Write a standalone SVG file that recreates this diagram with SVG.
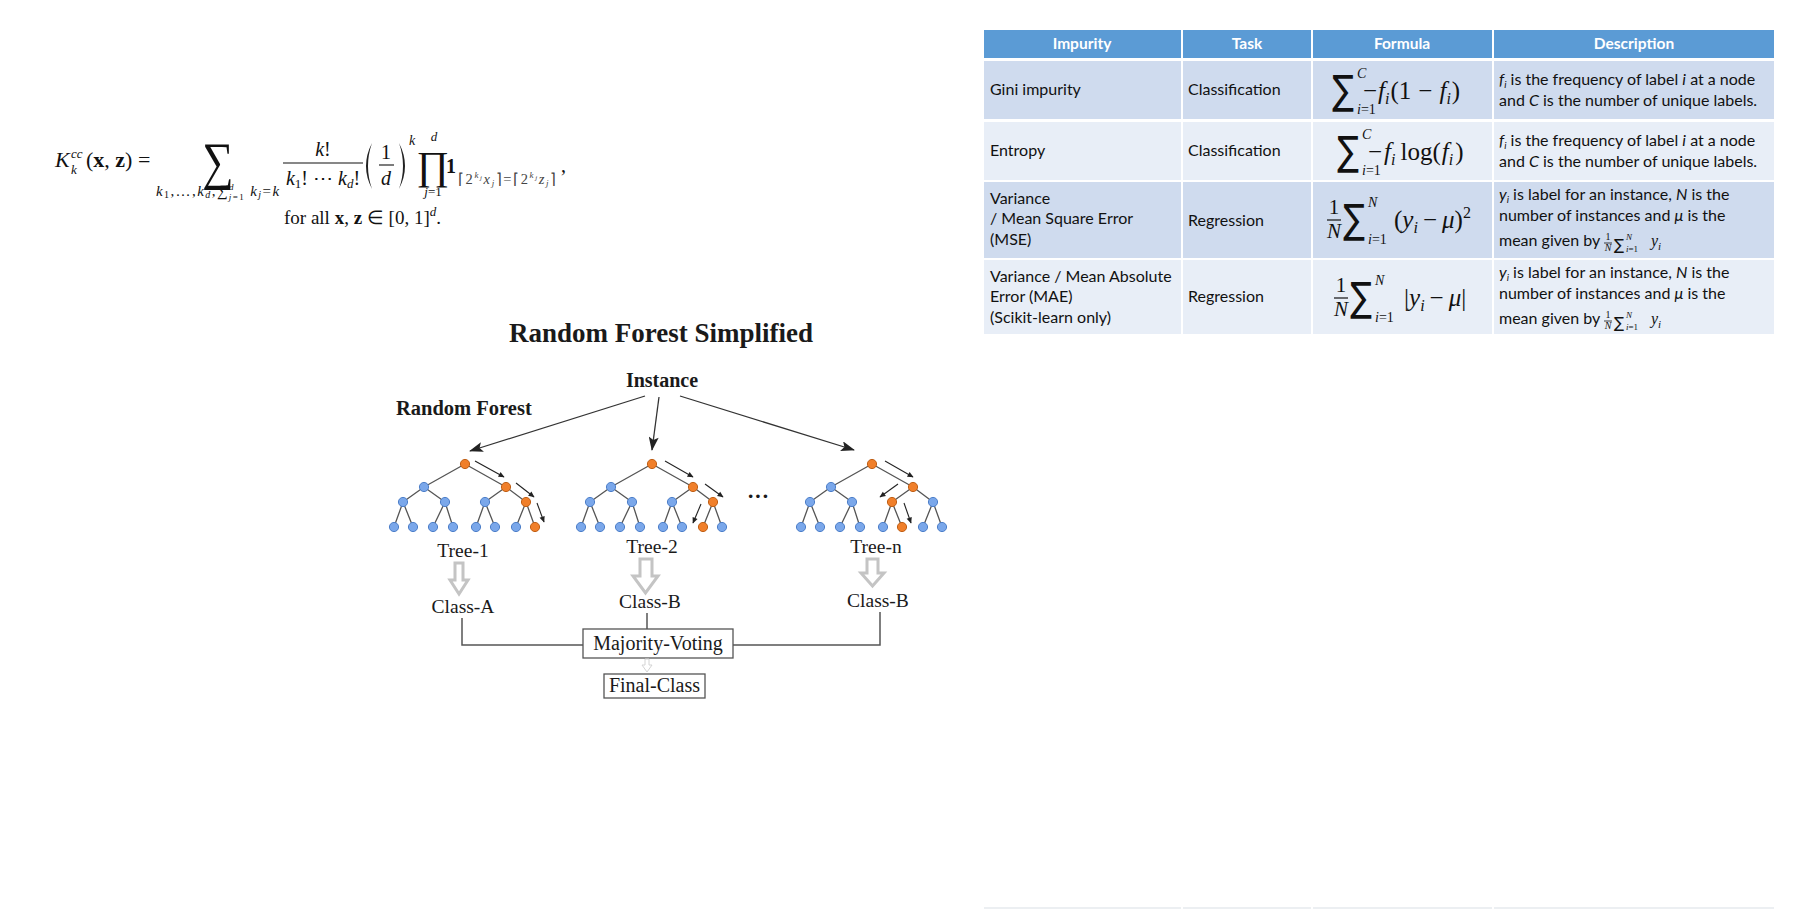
<svg xmlns="http://www.w3.org/2000/svg" width="1801" height="919" viewBox="0 0 1801 919">
<defs>
<style>
.t{font-family:Lato,"Liberation Sans",sans-serif;font-size:16px;fill:#111}
.th{font-family:Lato,"Liberation Sans",sans-serif;font-size:15.5px;font-weight:bold;fill:#fff;text-anchor:middle}
.m{font-family:"Liberation Serif",serif;fill:#111}
.sg{font-family:"DejaVu Sans",sans-serif;fill:#111}
.i{font-style:italic}
.n{font-style:normal}
.hd{fill:#5b9bd5}
.r1{fill:#cfdbee}
.r2{fill:#e8eef7}
.s{font-family:"Liberation Serif",serif;fill:#1a1a1a}
.edge{stroke:#555;stroke-width:1.3;fill:none}
.nb{fill:#7aa7ea;stroke:#4d7fc9;stroke-width:1}
.no{fill:#f07f2a;stroke:#c05f15;stroke-width:1}
.pa{stroke:#222;stroke-width:1.1;fill:none;marker-end:url(#sa)}
.ia{stroke:#333;stroke-width:1.3;fill:none;marker-end:url(#la)}
.ga{fill:#fff;stroke:#c4c4c4;stroke-width:3;stroke-linejoin:miter}
.cl{stroke:#555;stroke-width:1.5;fill:none}
.bx{fill:#fff;stroke:#555;stroke-width:1.3}
</style>
<marker id="sa" viewBox="0 0 10 10" refX="9" refY="5" markerWidth="7" markerHeight="6" orient="auto" markerUnits="userSpaceOnUse"><path d="M0,0.5 L10,5 L0,9.5 z" fill="#222"/></marker>
<marker id="la" viewBox="0 0 14 10" refX="13" refY="5" markerWidth="15" markerHeight="10" orient="auto" markerUnits="userSpaceOnUse"><path d="M0,0 L14,5 L0,10 L3,5 z" fill="#222"/></marker>
<path id="edges" class="edge" d="M0,0 L-41,23 M0,0 L41,23 M-41,23 L-62,38 M-41,23 L-20,38 M41,23 L20,38 M41,23 L61,38 M-62,38 L-71,63 M-62,38 L-52,63 M-20,38 L-32,63 M-20,38 L-12,63 M20,38 L11,63 M20,38 L30,63 M61,38 L51,63 M61,38 L70,63"/>
</defs>
<rect width="1801" height="919" fill="#fff"/>

<!-- top-left formula -->
<g id="formula-kernel" class="m">
<text x="55" y="167" font-size="22" class="i">K</text>
<text x="71" y="158" font-size="13" class="i">cc</text>
<text x="71" y="174" font-size="13" class="i">k</text>
<text x="86" y="167" font-size="22">(<tspan font-weight="bold">x</tspan>, <tspan font-weight="bold">z</tspan>) =</text>
<text font-size="44" transform="translate(202,179) scale(1,1.2)">∑</text>
<text x="156" y="196" font-size="15" letter-spacing="1.4" class="i">k<tspan font-size="10" dy="2" class="n">1</tspan><tspan dy="-2" class="n">,…,</tspan>k<tspan font-size="10" dy="2">d</tspan><tspan dy="-2" class="n">,∑</tspan><tspan font-size="9" dy="-6">d</tspan><tspan font-size="9" dx="-6" dy="10">j</tspan><tspan font-size="9" class="n">=1</tspan><tspan dy="-4"> k</tspan><tspan font-size="10" dy="2">j</tspan><tspan dy="-2" class="n">=</tspan>k</text>
<text x="323" y="156" font-size="20" text-anchor="middle"><tspan class="i">k</tspan>!</text>
<line x1="283" y1="163" x2="363" y2="163" stroke="#111" stroke-width="1.1"/>
<text x="323" y="185" font-size="20" text-anchor="middle"><tspan class="i">k</tspan><tspan font-size="13" dy="3">1</tspan><tspan dy="-3">! ⋯ </tspan><tspan class="i">k</tspan><tspan font-size="13" dy="3" class="i">d</tspan><tspan dy="-3">!</tspan></text>
<path d="M372,143 Q360,166 372,189 Q364,166 372,143 z" fill="#222"/>
<path d="M399,143 Q411,166 399,189 Q407,166 399,143 z" fill="#222"/>
<text x="386" y="159" font-size="20" text-anchor="middle">1</text>
<line x1="379" y1="165" x2="394" y2="165" stroke="#111" stroke-width="1.1"/>
<text x="386" y="185" font-size="20" text-anchor="middle" class="i">d</text>
<text x="409" y="145" font-size="14" class="i">k</text>
<text x="434" y="141" font-size="13" text-anchor="middle" class="i">d</text>
<text font-size="38" text-anchor="middle" transform="translate(433,179) scale(1.05,1.05)">∏</text>
<text x="433" y="196" font-size="13" text-anchor="middle"><tspan class="i">j</tspan>=1</text>
<text x="446" y="173" font-size="20" font-weight="bold">1</text>
<text x="458" y="184" font-size="14.5" letter-spacing="1.6" fill="#444">⌈2<tspan font-size="9" dy="-6" class="i">k</tspan><tspan font-size="7" dy="2" class="i">j</tspan><tspan dy="4" class="i">x</tspan><tspan font-size="9" dy="2" class="i">j</tspan><tspan dy="-2">⌉=⌈2</tspan><tspan font-size="9" dy="-6" class="i">k</tspan><tspan font-size="7" dy="2" class="i">j</tspan><tspan dy="4" class="i">z</tspan><tspan font-size="9" dy="2" class="i">j</tspan><tspan dy="-2">⌉</tspan></text>
<text x="561" y="172" font-size="20">,</text>
<text x="284" y="224" font-size="19">for all <tspan font-weight="bold">x</tspan>, <tspan font-weight="bold">z</tspan> ∈ [0, 1]<tspan font-size="13" dy="-8" class="i">d</tspan><tspan dy="8">.</tspan></text>
</g>

<!-- table -->
<g id="table">
<g id="header">
<rect class="hd" x="984" y="30" width="197" height="28"/>
<rect class="hd" x="1183" y="30" width="128" height="28"/>
<rect class="hd" x="1313" y="30" width="179" height="28"/>
<rect class="hd" x="1494" y="30" width="280" height="28"/>
<text class="th" x="1082" y="49">Impurity</text>
<text class="th" x="1247" y="49">Task</text>
<text class="th" x="1402" y="49">Formula</text>
<text class="th" x="1634" y="49">Description</text>
</g>
<g id="row-gini">
<rect class="r1" x="984" y="61" width="197" height="58"/>
<rect class="r1" x="1183" y="61" width="128" height="58"/>
<rect class="r1" x="1313" y="61" width="179" height="58"/>
<rect class="r1" x="1494" y="61" width="280" height="58"/>
<text class="t" x="990" y="95">Gini impurity</text>
<text class="t" x="1188" y="95">Classification</text>
<text class="sg" font-size="34" transform="translate(1332,104) scale(0.95,1.2)">∑</text>
<text class="m i" x="1357" y="78" font-size="14">C</text>
<text class="m" x="1357" y="114" font-size="14"><tspan class="i">i</tspan>=1</text>
<text class="m" x="1363" y="99" font-size="25">−<tspan class="i" dx="1">f</tspan><tspan class="i" font-size="16" dy="5">i</tspan><tspan dy="-5" dx="1">(1</tspan><tspan dx="7">−</tspan><tspan class="i" dx="7">f</tspan><tspan class="i" font-size="16" dy="5">i</tspan><tspan dy="-5" dx="1">)</tspan></text>
<text class="t" x="1499" y="85"><tspan class="i">f</tspan><tspan class="i" font-size="10" dy="3">i</tspan><tspan dy="-3"> is the frequency of label </tspan><tspan class="i">i</tspan> at a node</text>
<text class="t" x="1499" y="106">and <tspan class="i">C</tspan> is the number of unique labels.</text>
</g>
<g id="row-entropy">
<rect class="r2" x="984" y="122" width="197" height="58"/>
<rect class="r2" x="1183" y="122" width="128" height="58"/>
<rect class="r2" x="1313" y="122" width="179" height="58"/>
<rect class="r2" x="1494" y="122" width="280" height="58"/>
<text class="t" x="990" y="156">Entropy</text>
<text class="t" x="1188" y="156">Classification</text>
<text class="sg" font-size="34" transform="translate(1337,165) scale(0.95,1.2)">∑</text>
<text class="m i" x="1362" y="139" font-size="14">C</text>
<text class="m" x="1362" y="175" font-size="14"><tspan class="i">i</tspan>=1</text>
<text class="m" x="1368" y="160" font-size="25">−<tspan class="i" dx="2">f</tspan><tspan class="i" font-size="16" dy="5">i</tspan><tspan dy="-5" dx="5">log(</tspan><tspan class="i" dx="1">f</tspan><tspan class="i" font-size="16" dy="5">i</tspan><tspan dy="-5" dx="2">)</tspan></text>
<text class="t" x="1499" y="146"><tspan class="i">f</tspan><tspan class="i" font-size="10" dy="3">i</tspan><tspan dy="-3"> is the frequency of label </tspan><tspan class="i">i</tspan> at a node</text>
<text class="t" x="1499" y="167">and <tspan class="i">C</tspan> is the number of unique labels.</text>
</g>
<g id="row-mse">
<rect class="r1" x="984" y="182" width="197" height="76"/>
<rect class="r1" x="1183" y="182" width="128" height="76"/>
<rect class="r1" x="1313" y="182" width="179" height="76"/>
<rect class="r1" x="1494" y="182" width="280" height="76"/>
<text class="t" x="990" y="204">Variance</text>
<text class="t" x="990" y="224">/ Mean Square Error</text>
<text class="t" x="990" y="245">(MSE)</text>
<text class="t" x="1188" y="226">Regression</text>
<text class="m" x="1334" y="214" font-size="21" text-anchor="middle">1</text>
<line x1="1327" y1="220" x2="1341" y2="220" stroke="#111" stroke-width="1.2"/>
<text class="m i" x="1334" y="238" font-size="21" text-anchor="middle">N</text>
<text class="sg" font-size="34" transform="translate(1343,233) scale(0.95,1.2)">∑</text>
<text class="m i" x="1368" y="207" font-size="14">N</text>
<text class="m" x="1368" y="244" font-size="14"><tspan class="i">i</tspan>=1</text>
<text class="m" x="1394" y="228" font-size="25">(<tspan class="i">y</tspan><tspan class="i" font-size="16" dy="5">i</tspan><tspan dy="-5" dx="5">−</tspan><tspan class="i" dx="5">μ</tspan>)<tspan font-size="16" dy="-10">2</tspan></text>
<text class="t" x="1499" y="200"><tspan class="i">y</tspan><tspan class="i" font-size="10" dy="3">i</tspan><tspan dy="-3"> is label for an instance, </tspan><tspan class="i">N</tspan> is the</text>
<text class="t" x="1499" y="221">number of instances and <tspan class="i">μ</tspan> is the</text>
<text class="t" x="1499" y="246">mean given by</text>
<text class="m" x="1608" y="240" font-size="10" text-anchor="middle">1</text>
<line x1="1604" y1="243" x2="1612" y2="243" stroke="#111" stroke-width="0.8"/>
<text class="m i" x="1608" y="251" font-size="10" text-anchor="middle">N</text>
<text class="sg" x="1614" y="250" font-size="15">∑</text>
<text class="m i" x="1626" y="240" font-size="9">N</text>
<text class="m" x="1626" y="252" font-size="9"><tspan class="i">i</tspan>=1</text>
<text class="m i" x="1651" y="246" font-size="16">y<tspan font-size="11" dy="4">i</tspan></text>
</g>
<g id="row-mae">
<rect class="r2" x="984" y="260" width="197" height="74"/>
<rect class="r2" x="1183" y="260" width="128" height="74"/>
<rect class="r2" x="1313" y="260" width="179" height="74"/>
<rect class="r2" x="1494" y="260" width="280" height="74"/>
<text class="t" x="990" y="282">Variance / Mean Absolute</text>
<text class="t" x="990" y="302">Error (MAE)</text>
<text class="t" x="990" y="323">(Scikit-learn only)</text>
<text class="t" x="1188" y="302">Regression</text>
<text class="m" x="1341" y="292" font-size="21" text-anchor="middle">1</text>
<line x1="1334" y1="298" x2="1348" y2="298" stroke="#111" stroke-width="1.2"/>
<text class="m i" x="1341" y="316" font-size="21" text-anchor="middle">N</text>
<text class="sg" font-size="34" transform="translate(1350,311) scale(0.95,1.2)">∑</text>
<text class="m i" x="1375" y="285" font-size="14">N</text>
<text class="m" x="1375" y="322" font-size="14"><tspan class="i">i</tspan>=1</text>
<text class="m" x="1404" y="306" font-size="25">|<tspan class="i">y</tspan><tspan class="i" font-size="16" dy="5">i</tspan><tspan dy="-5" dx="5">−</tspan><tspan class="i" dx="5">μ</tspan>|</text>
<text class="t" x="1499" y="278"><tspan class="i">y</tspan><tspan class="i" font-size="10" dy="3">i</tspan><tspan dy="-3"> is label for an instance, </tspan><tspan class="i">N</tspan> is the</text>
<text class="t" x="1499" y="299">number of instances and <tspan class="i">μ</tspan> is the</text>
<text class="t" x="1499" y="324">mean given by</text>
<text class="m" x="1608" y="318" font-size="10" text-anchor="middle">1</text>
<line x1="1604" y1="321" x2="1612" y2="321" stroke="#111" stroke-width="0.8"/>
<text class="m i" x="1608" y="329" font-size="10" text-anchor="middle">N</text>
<text class="sg" x="1614" y="328" font-size="15">∑</text>
<text class="m i" x="1626" y="318" font-size="9">N</text>
<text class="m" x="1626" y="330" font-size="9"><tspan class="i">i</tspan>=1</text>
<text class="m i" x="1651" y="324" font-size="16">y<tspan font-size="11" dy="4">i</tspan></text>
</g>
<g id="table-bottom" stroke="#eceff2" stroke-width="2">
<line x1="984" y1="908" x2="1181" y2="908"/>
<line x1="1183" y1="908" x2="1311" y2="908"/>
<line x1="1313" y1="908" x2="1492" y2="908"/>
<line x1="1494" y1="908" x2="1774" y2="908"/>
</g>
</g>

<!-- random forest diagram -->
<g id="rf-title"><text class="s" x="661" y="342" font-size="27" font-weight="bold" text-anchor="middle">Random Forest Simplified</text></g>
<g id="instance"><text class="s" x="662" y="387" font-size="20" font-weight="bold" text-anchor="middle">Instance</text></g>
<g id="rf-label"><text class="s" x="396" y="415" font-size="20.5" font-weight="bold">Random Forest</text></g>

<g id="tree-1" transform="translate(465,464)">
<use href="#edges"/>
<circle class="no" cx="0" cy="0" r="4.6"/>
<circle class="nb" cx="-41" cy="23" r="4.6"/><circle class="no" cx="41" cy="23" r="4.6"/>
<circle class="nb" cx="-62" cy="38" r="4.6"/><circle class="nb" cx="-20" cy="38" r="4.6"/><circle class="nb" cx="20" cy="38" r="4.6"/><circle class="no" cx="61" cy="38" r="4.6"/>
<circle class="nb" cx="-71" cy="63" r="4.6"/><circle class="nb" cx="-52" cy="63" r="4.6"/><circle class="nb" cx="-32" cy="63" r="4.6"/><circle class="nb" cx="-12" cy="63" r="4.6"/><circle class="nb" cx="11" cy="63" r="4.6"/><circle class="nb" cx="30" cy="63" r="4.6"/><circle class="nb" cx="51" cy="63" r="4.6"/><circle class="no" cx="70" cy="63" r="4.6"/>
<text class="s" x="-2" y="93" font-size="19.5" text-anchor="middle">Tree-1</text>
</g>
<g id="tree-2" transform="translate(652,464)">
<use href="#edges"/>
<circle class="no" cx="0" cy="0" r="4.6"/>
<circle class="nb" cx="-41" cy="23" r="4.6"/><circle class="no" cx="41" cy="23" r="4.6"/>
<circle class="nb" cx="-62" cy="38" r="4.6"/><circle class="nb" cx="-20" cy="38" r="4.6"/><circle class="nb" cx="20" cy="38" r="4.6"/><circle class="no" cx="61" cy="38" r="4.6"/>
<circle class="nb" cx="-71" cy="63" r="4.6"/><circle class="nb" cx="-52" cy="63" r="4.6"/><circle class="nb" cx="-32" cy="63" r="4.6"/><circle class="nb" cx="-12" cy="63" r="4.6"/><circle class="nb" cx="11" cy="63" r="4.6"/><circle class="nb" cx="30" cy="63" r="4.6"/><circle class="no" cx="51" cy="63" r="4.6"/><circle class="nb" cx="70" cy="63" r="4.6"/>
<text class="s" x="0" y="89" font-size="19.5" text-anchor="middle">Tree-2</text>
</g>
<g id="ellipsis"><text class="s" x="758" y="503" font-size="22" font-weight="bold" text-anchor="middle">···</text></g>
<g id="tree-n" transform="translate(872,464)">
<use href="#edges"/>
<circle class="no" cx="0" cy="0" r="4.6"/>
<circle class="nb" cx="-41" cy="23" r="4.6"/><circle class="no" cx="41" cy="23" r="4.6"/>
<circle class="nb" cx="-62" cy="38" r="4.6"/><circle class="nb" cx="-20" cy="38" r="4.6"/><circle class="no" cx="20" cy="38" r="4.6"/><circle class="nb" cx="61" cy="38" r="4.6"/>
<circle class="nb" cx="-71" cy="63" r="4.6"/><circle class="nb" cx="-52" cy="63" r="4.6"/><circle class="nb" cx="-32" cy="63" r="4.6"/><circle class="nb" cx="-12" cy="63" r="4.6"/><circle class="nb" cx="11" cy="63" r="4.6"/><circle class="no" cx="30" cy="63" r="4.6"/><circle class="nb" cx="51" cy="63" r="4.6"/><circle class="nb" cx="70" cy="63" r="4.6"/>
<text class="s" x="4" y="89" font-size="19.5" text-anchor="middle">Tree-n</text>
</g>

<g id="class-a"><text class="s" x="463" y="613" font-size="19.5" text-anchor="middle">Class-A</text></g>
<g id="class-b-2"><text class="s" x="650" y="608" font-size="19.5" text-anchor="middle">Class-B</text></g>
<g id="class-b-n"><text class="s" x="878" y="607" font-size="19.5" text-anchor="middle">Class-B</text></g>
<g id="majority-voting"><rect class="bx" x="583" y="629" width="150" height="29"/><text class="s" x="658" y="650" font-size="20" text-anchor="middle">Majority-Voting</text></g>
<g id="final-class"><rect class="bx" x="604" y="674" width="101" height="24"/><text class="s" x="654.5" y="692" font-size="20" text-anchor="middle">Final-Class</text></g>

<g id="connectors">
<line class="ia" x1="645" y1="396" x2="470" y2="451"/>
<line class="ia" x1="659" y1="397" x2="652" y2="450"/>
<line class="ia" x1="680" y1="396" x2="854" y2="450"/>
<line class="pa" x1="475" y1="461" x2="504" y2="477"/>
<line class="pa" x1="516" y1="483" x2="534" y2="497"/>
<line class="pa" x1="537" y1="503" x2="544" y2="522"/>
<line class="pa" x1="665" y1="461" x2="693" y2="477"/>
<line class="pa" x1="705" y1="484" x2="723" y2="497"/>
<line class="pa" x1="701" y1="504" x2="693" y2="523"/>
<line class="pa" x1="885" y1="461" x2="913" y2="477"/>
<line class="pa" x1="898" y1="484" x2="880" y2="497"/>
<line class="pa" x1="904" y1="503" x2="911" y2="523"/>
<path class="ga" d="M455,563 h8 v17 h5 l-9,14 l-9,-14 h5 z"/>
<path class="ga" d="M640,559 h12 v17 h6 l-12.5,17 l-12.5,-17 h7 z"/>
<path class="ga" d="M867,559 h11 v14 h6 l-11.5,13 l-11.5,-13 h6 z"/>
<path d="M645,659 h4 v6 h3 l-5,7 l-5,-7 h3 z" fill="#fff" stroke="#d4d4d4" stroke-width="1"/>
<path class="cl" d="M462,618 V645 H583"/>
<path class="cl" d="M880,612 V645 H733"/>
<path class="cl" d="M647,613 V629"/>
</g>
</svg>
